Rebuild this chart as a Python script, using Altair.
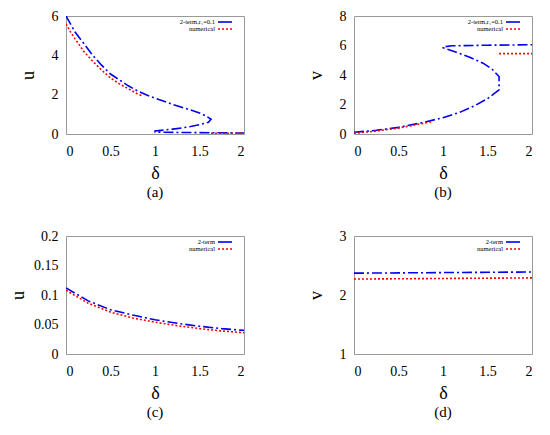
import altair as alt
import pandas as pd

# ---------------- data ----------------
# panel (a): u vs delta
a_blue_d = [0.0, 0.05, 0.1, 0.2, 0.3, 0.4, 0.5, 0.6, 0.7, 0.8, 0.9, 1.0, 1.1, 1.2, 1.3, 1.4, 1.5, 1.58, 1.63,
            1.6, 1.5, 1.4, 1.3, 1.2, 1.1, 1.0,
            1.0, 1.25, 1.5, 1.75, 2.0]
a_blue_u = [6.0, 5.6, 5.2, 4.6, 4.0, 3.5, 3.05, 2.75, 2.45, 2.2, 2.0, 1.82, 1.66, 1.5, 1.36, 1.22, 1.07, 0.9, 0.75,
            0.6, 0.47, 0.38, 0.31, 0.25, 0.2, 0.15,
            0.1, 0.08, 0.07, 0.06, 0.05]
a_red_d = [0.0, 0.05, 0.1, 0.2, 0.3, 0.4, 0.5, 0.6, 0.7, 0.8, 0.85, 1.63, 1.8, 2.0]
a_red_u = [5.6, 5.2, 4.85, 4.2, 3.7, 3.25, 2.85, 2.55, 2.3, 2.05, 1.95, 0.04, 0.035, 0.03]
a_red_seg = [0] * 11 + [1] * 3

# panel (b): v vs delta
b_blue_d = [0.0, 0.25, 0.5, 0.75, 1.0, 1.2, 1.35, 1.5, 1.6, 1.63,
            1.63, 1.55, 1.45, 1.3, 1.15, 1.05, 1.0,
            1.0, 1.1, 1.5, 2.0]
b_blue_v = [0.12, 0.25, 0.45, 0.75, 1.1, 1.5, 1.9, 2.4, 2.85, 3.0,
            3.9, 4.4, 4.8, 5.2, 5.55, 5.75, 5.85,
            5.9, 5.98, 6.02, 6.05]
b_red_d = [0.0, 0.25, 0.5, 0.8, 0.88, 1.63, 2.0]
b_red_v = [0.05, 0.2, 0.4, 0.75, 0.85, 5.45, 5.45]
b_red_seg = [0, 0, 0, 0, 0, 1, 1]

# panel (c): u vs delta
c_d = [0.0, 0.25, 0.5, 0.75, 1.0, 1.25, 1.5, 1.75, 2.0]
c_blue_u = [0.112, 0.09, 0.075, 0.066, 0.058, 0.052, 0.047, 0.043, 0.040]
c_red_u = [0.108, 0.086, 0.071, 0.061, 0.054, 0.048, 0.043, 0.039, 0.036]

# panel (d): v vs delta
d_d = [0.0, 1.0, 2.0]
d_blue_v = [2.37, 2.38, 2.39]
d_red_v = [2.27, 2.28, 2.29]

x_ticks = [0, 0.5, 1, 1.5, 2]
FONT = "Liberation Serif"
BLUE = "#0000ee"
RED = "#ff0000"
GRAY = "#999999"
BLUE_DASH = [10, 3, 2, 3]
RED_DASH = [2, 2]
H = 118
W = 178


def make_df(blue_x, blue_y, red_x, red_y, red_seg, blue_label):
    rows = []
    for i, (x, y) in enumerate(zip(blue_x, blue_y)):
        rows.append(dict(d=x, y=y, s=blue_label, seg="b", o=i))
    for i, (x, y, g) in enumerate(zip(red_x, red_y, red_seg)):
        rows.append(dict(d=x, y=y, s="numerical", seg=f"r{g}", o=i))
    return pd.DataFrame(rows)


def panel(df, ydom, yticks, ytitle, sub, blue_label, ytpad):
    w = W
    xscale = alt.Scale(domain=[0, 2], nice=False)
    yscale = alt.Scale(domain=ydom, nice=False)
    xaxis = alt.Axis(values=x_ticks, format="~g", title="δ",
                     labelFont=FONT, titleFont=FONT, labelPadding=10, titlePadding=6)
    yaxis = alt.Axis(values=yticks, format="~g", title=ytitle,
                     labelFont=FONT, titleFont=FONT, labelPadding=8, titlePadding=ytpad)
    lines = alt.Chart(df).mark_line(strokeWidth=1.6, clip=True).encode(
        x=alt.X("d:Q", scale=xscale, axis=xaxis),
        y=alt.Y("y:Q", scale=yscale, axis=yaxis),
        color=alt.Color("s:N", scale=alt.Scale(domain=[blue_label, "numerical"], range=[BLUE, RED]),
                        legend=None),
        strokeDash=alt.StrokeDash("s:N", scale=alt.Scale(domain=[blue_label, "numerical"],
                                                         range=[BLUE_DASH, RED_DASH]),
                                  legend=None),
        detail="seg:N",
        order="o:Q",
    )
    # key (legend) drawn gnuplot style: label right-aligned, sample to its right
    key_df = pd.DataFrame({"lab": [blue_label, "numerical"]})
    tx = w - 29
    s1, s2 = w - 26, w - 12
    key_t1 = alt.Chart(key_df.iloc[[0]]).mark_text(align="right", baseline="middle", font=FONT,
                                                   fontSize=6.5, color="black").encode(
        x=alt.value(tx), y=alt.value(6), text="lab:N")
    key_t2 = alt.Chart(key_df.iloc[[1]]).mark_text(align="right", baseline="middle", font=FONT,
                                                   fontSize=6.5, color="black").encode(
        x=alt.value(tx), y=alt.value(13), text="lab:N")
    key_blue = alt.Chart(key_df.iloc[[0]]).mark_rule(color=BLUE, strokeWidth=1.6).encode(
        x=alt.value(s1), x2=alt.value(s2), y=alt.value(6))
    key_red = alt.Chart(key_df.iloc[[1]]).mark_rule(color=RED, strokeWidth=1.6, strokeDash=RED_DASH).encode(
        x=alt.value(s1), x2=alt.value(s2), y=alt.value(13))
    return alt.layer(lines, key_t1, key_t2, key_blue, key_red).properties(
        width=w, height=H,
        title=alt.TitleParams(sub, orient="bottom", font=FONT, fontSize=15,
                              fontWeight="normal", offset=3))


pa = panel(make_df(a_blue_d, a_blue_u, a_red_d, a_red_u, a_red_seg, "2-term,r₁=0.1"),
           [0, 6], [0, 2, 4, 6], "u", "(a)", "2-term,r₁=0.1", 14)
pb = panel(make_df(b_blue_d, b_blue_v, b_red_d, b_red_v, b_red_seg, "2-term,r₁=0.1"),
           [0, 8], [0, 2, 4, 6, 8], "v", "(b)", "2-term,r₁=0.1", 14)
pc = panel(make_df(c_d, c_blue_u, c_d, c_red_u, [0] * len(c_d), "2-term"),
           [0, 0.2], [0, 0.05, 0.1, 0.15, 0.2], "u", "(c)", "2-term", 6)
pd_ = panel(make_df(d_d, d_blue_v, d_d, d_red_v, [0] * len(d_d), "2-term"),
            [1, 3], [1, 2, 3], "v", "(d)", "2-term", 14)

chart = alt.concat(pa, pb, pc, pd_, columns=2, bounds="flush",
                   spacing={"row": 102, "column": 110}).properties(
    padding={"left": 1, "top": 0, "right": 0, "bottom": 0}
).configure_axis(
    labelFont=FONT, labelFontSize=14, labelColor="black",
    titleFont=FONT, titleFontSize=18, titleFontWeight="normal", titleColor="black",
    domain=False, ticks=False, grid=False,
).configure_view(
    stroke=GRAY, strokeWidth=1
)

chart.save("out.html", embed_options={"renderer": "svg", "actions": False})
